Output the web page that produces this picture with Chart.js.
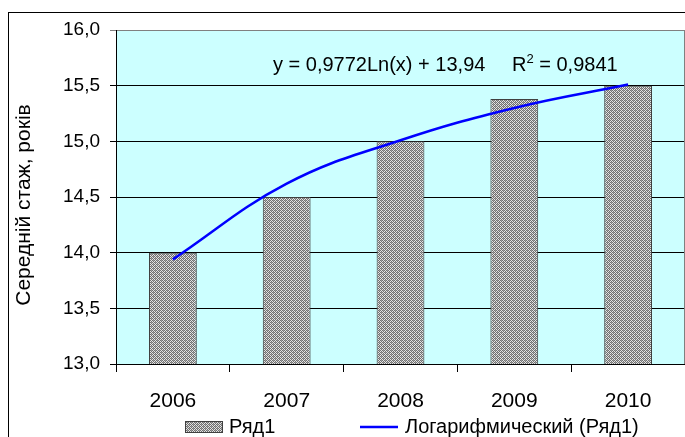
<!DOCTYPE html>
<html>
<head>
<meta charset="utf-8">
<script src="https://cdn.jsdelivr.net/npm/chart.js@4"></script>
<style>
  html, body { margin: 0; padding: 0; background: #fff; overflow: hidden; }
  #wrap { position: relative; width: 685px; height: 437px; }
</style>
</head>
<body>
<div id="wrap"><canvas id="stazhChart"></canvas></div>
<script>
// Data
const years = ['2006', '2007', '2008', '2009', '2010'];
const stazh = [14.0, 14.5, 15.0, 15.38, 15.5];
const trendValues = [13.94, 14.62, 15.01, 15.30, 15.51];
const yTicks = ['13,0', '13,5', '14,0', '14,5', '15,0', '15,5', '16,0'];

const seriesName = 'Ряд1';
const trendName = 'Логарифмический (Ряд1)';
const axisTitle = 'Середній стаж, років';
const equationText = 'y = 0,9772Ln(x) + 13,94';
const r2Text = ' = 0,9841';

const FONT = 'Arial, "Liberation Sans", sans-serif';

// grey dotted fill like the Excel pattern
function makePattern() {
    const c = document.createElement('canvas');
    c.width = 4;
    c.height = 4;
    const p = c.getContext('2d');
    p.fillStyle = '#e4e4e4';
    p.fillRect(0, 0, 4, 4);
    p.fillStyle = '#707070';
    for (let y = 0; y < 4; y++) {
        for (let x = 0; x < 4; x++) {
            if ((x + y) % 2 === 0) p.fillRect(x, y, 1, 1);
        }
    }
    p.fillStyle = '#a0a0a0';
    p.fillRect(1, 0, 1, 1);
    p.fillRect(3, 2, 1, 1);
    return p.createPattern(c, 'repeat');
}
const barPattern = makePattern();

// plot background, outer frame, equation, axis title and legend
const decorPlugin = {
    id: 'decor',
    beforeDraw(chart) {
        const ctx = chart.ctx;
        const a = chart.chartArea;
        ctx.save();
        ctx.fillStyle = '#fff';
        ctx.fillRect(0, 0, chart.width, chart.height);
        ctx.strokeStyle = '#000';
        ctx.lineWidth = 1;
        ctx.strokeRect(8.5, 12.5, 720, 500);
        ctx.fillStyle = '#CCFFFF';
        ctx.fillRect(a.left, a.top, a.right - a.left, a.bottom - a.top);
        ctx.restore();
    },
    afterDraw(chart) {
        const ctx = chart.ctx;
        const a = chart.chartArea;
        ctx.save();
        // right border of plot area
        ctx.strokeStyle = '#808080';
        ctx.lineWidth = 1;
        ctx.beginPath();
        ctx.moveTo(a.right - 0.5, a.top);
        ctx.lineTo(a.right - 0.5, a.bottom);
        ctx.stroke();

        // trendline equation
        ctx.fillStyle = '#000';
        ctx.textBaseline = 'alphabetic';
        ctx.textAlign = 'left';
        ctx.font = '20px ' + FONT;
        let x = 273;
        const base = 71;
        ctx.fillText(equationText, x, base);
        x = 512;
        ctx.fillText('R', x, base);
        x += ctx.measureText('R').width;
        ctx.font = '13px ' + FONT;
        ctx.fillText('2', x, base - 8);
        x += ctx.measureText('2').width;
        ctx.font = '20px ' + FONT;
        ctx.fillText(r2Text, x, base);

        // y axis title
        ctx.save();
        ctx.translate(24, 205);
        ctx.rotate(-Math.PI / 2);
        ctx.textAlign = 'center';
        ctx.textBaseline = 'middle';
        ctx.font = '21px ' + FONT;
        ctx.fillText(axisTitle, 0, 0);
        ctx.restore();

        // legend
        const ly = 427;
        ctx.font = '20px ' + FONT;
        ctx.textBaseline = 'middle';
        ctx.fillStyle = barPattern;
        ctx.fillRect(185, ly - 6, 38, 12);
        ctx.strokeStyle = '#404040';
        ctx.lineWidth = 1;
        ctx.strokeRect(185.5, ly - 5.5, 37, 11);
        ctx.fillStyle = '#000';
        ctx.fillText(chart.data.datasets[1].label, 229, ly);

        ctx.strokeStyle = chart.data.datasets[0].borderColor;
        ctx.lineWidth = 2.5;
        ctx.beginPath();
        ctx.moveTo(360, ly);
        ctx.lineTo(398, ly);
        ctx.stroke();
        ctx.fillText(chart.data.datasets[0].label, 405, ly);
        ctx.restore();
    }
};

const ctx = document.getElementById('stazhChart').getContext('2d');
const stazhChart = new Chart(ctx, {
    data: {
        labels: years,
        datasets: [{
            type: 'line',
            label: trendName,
            data: trendValues,
            borderColor: '#0000FF',
            borderWidth: 2.5,
            pointRadius: 0,
            tension: 0.4,
            fill: false,
            order: 0
        }, {
            type: 'bar',
            label: seriesName,
            data: stazh,
            backgroundColor: barPattern,
            borderColor: '#404040',
            borderWidth: 1,
            barPercentage: 0.42,
            categoryPercentage: 1.0,
            order: 1
        }]
    },
    options: {
        responsive: true,
        maintainAspectRatio: false,
        animation: false,
        layout: {
            padding: { top: 30, right: 0, bottom: 23, left: 0 }
        },
        plugins: {
            legend: { display: false },
            tooltip: { enabled: false }
        },
        scales: {
            x: {
                offset: true,
                grid: {
                    offset: true,
                    drawOnChartArea: false,
                    drawTicks: true,
                    tickLength: 8,
                    color: '#000'
                },
                border: { display: true, color: '#000', width: 1 },
                ticks: {
                    color: '#000',
                    padding: 17,
                    font: { family: FONT, size: 21 }
                },
                afterFit: function(scale) {
                    scale.height = 50;
                }
            },
            y: {
                min: 13,
                max: 16,
                grid: {
                    color: function(c) {
                        return c.tick && c.tick.value === 16 ? '#808080' : '#000';
                    },
                    tickLength: 6,
                    drawTicks: true
                },
                border: { display: true, color: '#000', width: 1 },
                ticks: {
                    stepSize: 0.5,
                    color: '#000',
                    padding: 10,
                    font: { family: FONT, size: 19 },
                    callback: function(value, index) {
                        return yTicks[index];
                    }
                },
                afterFit: function(scale) {
                    scale.width = 116;
                }
            }
        }
    },
    plugins: [decorPlugin]
});
</script>
</body>
</html>
